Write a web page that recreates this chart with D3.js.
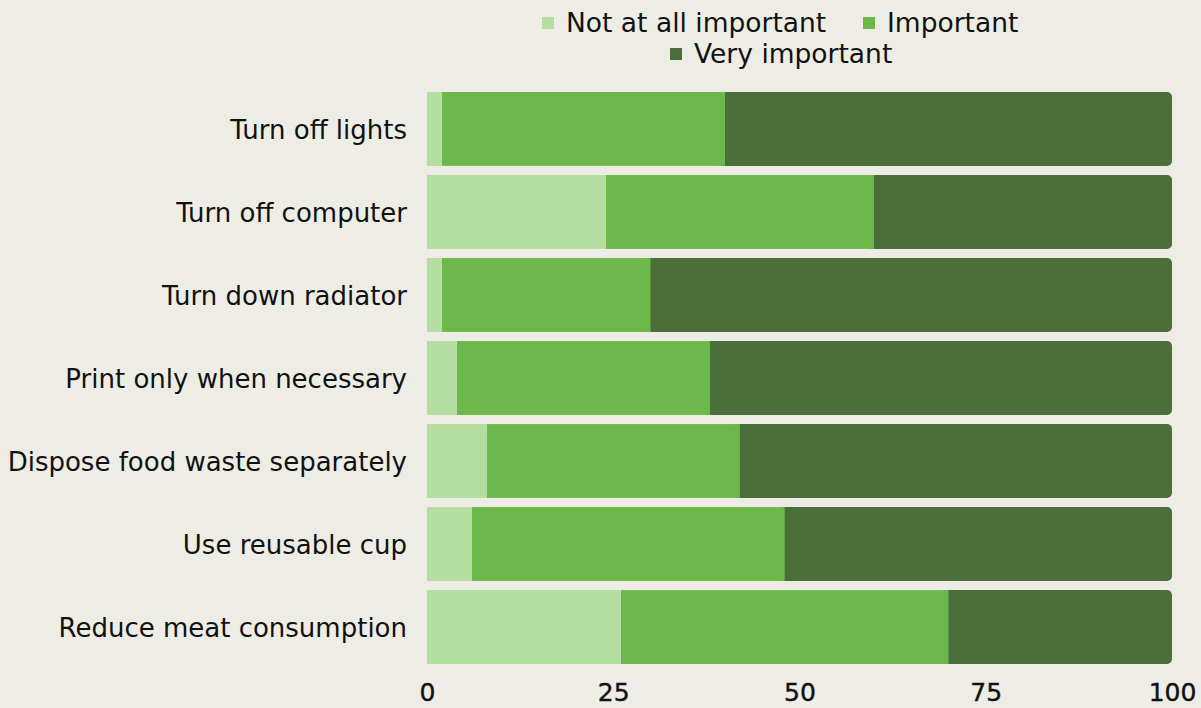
<!DOCTYPE html>
<html>
<head>
<meta charset="utf-8">
<script src="https://cdn.jsdelivr.net/npm/d3@7"></script>
<style>
  body { margin: 0; background: #edede5; }
  svg { display: block; font-family: "DejaVu Sans", sans-serif; }
</style>
</head>
<body>
<svg width="1201" height="708"></svg>
<script>
let categories = ['Turn off lights', 'Turn off computer', 'Turn down radiator',
  'Print only when necessary', 'Dispose food waste separately',
  'Use reusable cup', 'Reduce meat consumption'];
let notImportant = [2, 24, 2, 4, 8, 6, 26];
let important = [38, 36, 28, 34, 34, 42, 44];
let veryImportant = [60, 40, 70, 62, 58, 52, 30];
let seriesNames = ['Not at all important', 'Important', 'Very important'];
let ticks = [0, 25, 50, 75, 100];

let colors = ['#b4dda0', '#6db84b', '#4a6f3a'];

let svg = d3.select('svg');
let plotLeft = 427, plotRight = 1172, plotTop = 92, plotBottom = 664;

let x = d3.scaleLinear().domain([0, 100]).range([plotLeft, plotRight]);
let y = d3.scaleBand().domain(categories).range([plotTop, plotBottom]).paddingInner(0.11);

let rows = categories.map(function(c, i) {
  return {cat: c, vals: [notImportant[i], important[i], veryImportant[i]]};
});

let g = svg.append('g');
rows.forEach(function(r) {
  let x0 = 0;
  let segs = r.vals.map(function(v) { let s = [x0, x0 + v]; x0 += v; return s; });
  /* dark segment first, with rounded right end; left rounding hidden under the others */
  g.append('rect')
    .attr('x', x(segs[2][0]) - 8)
    .attr('y', y(r.cat))
    .attr('width', x(segs[2][1]) - x(segs[2][0]) + 8)
    .attr('height', y.bandwidth())
    .attr('rx', 5)
    .attr('fill', colors[2]);
  [1, 0].forEach(function(k) {
    g.append('rect')
      .attr('x', x(segs[k][0]))
      .attr('y', y(r.cat))
      .attr('width', x(segs[k][1]) - x(segs[k][0]))
      .attr('height', y.bandwidth())
      .attr('fill', colors[k]);
  });
});

/* category labels */
let yAxis = svg.append('g')
  .attr('transform', 'translate(' + plotLeft + ',2)')
  .call(d3.axisLeft(y).tickSize(0).tickPadding(20));
yAxis.select('.domain').remove();
yAxis.selectAll('text').attr('font-size', 26).attr('fill', '#111').style('font-family', 'DejaVu Sans');

/* value axis */
let xAxis = svg.append('g')
  .attr('transform', 'translate(0,' + plotBottom + ')')
  .call(d3.axisBottom(x).tickValues(ticks).tickSize(0).tickPadding(19));
xAxis.select('.domain').remove();
xAxis.selectAll('text').attr('font-size', 25).attr('fill', '#111')
  .attr('stroke', '#111').attr('stroke-width', 0.4)
  .style('font-family', 'DejaVu Sans');

/* legend */
let legend = svg.append('g').attr('font-size', 26.5).attr('fill', '#111');
function legendItem(parent, i, xPos, yPos) {
  let item = parent.append('g').attr('transform', 'translate(' + xPos + ',' + yPos + ')');
  item.append('rect').attr('x', 0).attr('y', -6).attr('width', 12).attr('height', 12).attr('fill', colors[i]);
  item.append('text').attr('x', 24).attr('dy', '0.35em').text(seriesNames[i]);
  return item;
}
legendItem(legend, 0, 542, 23);
legendItem(legend, 1, 863, 23);
legendItem(legend, 2, 670, 54);
</script>
</body>
</html>
